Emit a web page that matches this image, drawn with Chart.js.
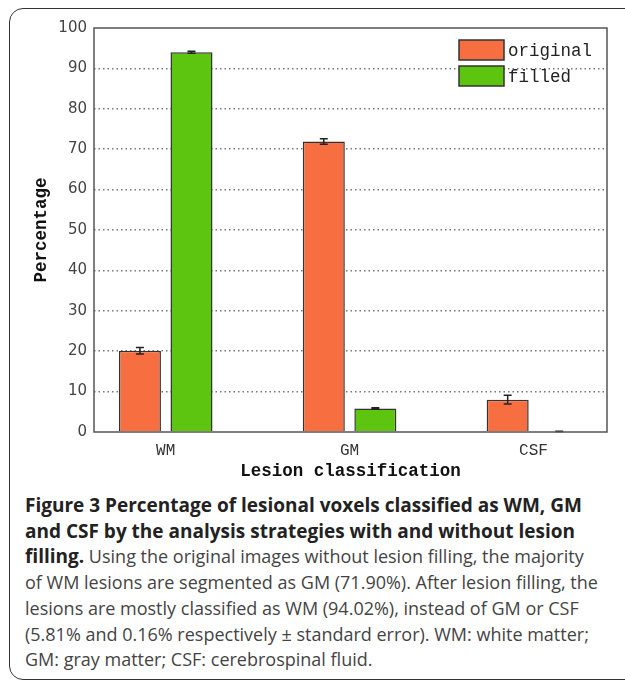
<!DOCTYPE html>
<html>
<head>
<meta charset="utf-8">
<script src="https://cdn.jsdelivr.net/npm/chart.js"></script>
<style>
  html, body { margin: 0; padding: 0; background: #fff; }
  body { width: 625px; height: 683px; position: relative; overflow: hidden; }
  #frame {
    position: absolute; left: 9px; top: 8px; width: 700px; height: 672px;
    border: 1.5px solid #333; border-radius: 14px; box-sizing: border-box;
  }
  #chart { position: absolute; left: 0; top: 0; }
  #caption {
    position: absolute; left: 25px; top: 493px;
    font-family: "Open Sans", sans-serif; font-size: 18px; line-height: 25.7px;
    color: #444; white-space: nowrap;
  }
  #caption b { color: #222; font-weight: 700; font-size: 19px; }
</style>
</head>
<body>
<div id="frame"></div>
<canvas id="chart" width="625" height="482"></canvas>
<div id="caption">
  <b>Figure 3 Percentage of lesional voxels classified as WM, GM</b><br>
  <b>and CSF by the analysis strategies with and without lesion</b><br>
  <b>filling.</b> Using the original images without lesion filling, the majority<br>
  of WM lesions are segmented as GM (71.90%). After lesion filling, the<br>
  lesions are mostly classified as WM (94.02%), instead of GM or CSF<br>
  (5.81% and 0.16% respectively ± standard error). WM: white matter;<br>
  GM: gray matter; CSF: cerebrospinal fluid.
</div>
<script>
const categories = ['WM', 'GM', 'CSF'];
const originalValues = [20.1, 71.9, 8.0];
const originalErrors = [0.8, 0.7, 1.1];
const filledValues = [94.02, 5.81, 0.16];
const filledErrors = [0.25, 0.2, 0.05];
const yTicks = [0, 10, 20, 30, 40, 50, 60, 70, 80, 90, 100];

const monoFont = '"Liberation Mono", "Courier New", monospace';

// error bars drawn on top of each bar
const errorBars = {
  id: 'errorBars',
  afterDatasetsDraw(chart) {
    const ctx = chart.ctx;
    const y = chart.scales.y;
    ctx.save();
    ctx.strokeStyle = '#222';
    ctx.lineWidth = 1.5;
    chart.data.datasets.forEach((ds, di) => {
      const meta = chart.getDatasetMeta(di);
      meta.data.forEach((bar, i) => {
        const v = ds.data[i].y;
        const e = ds.errors[i];
        const top = y.getPixelForValue(v + e);
        const bot = y.getPixelForValue(v - e);
        ctx.beginPath();
        ctx.moveTo(bar.x, top); ctx.lineTo(bar.x, bot);
        ctx.moveTo(bar.x - 4, top); ctx.lineTo(bar.x + 4, top);
        ctx.moveTo(bar.x - 4, bot); ctx.lineTo(bar.x + 4, bot);
        ctx.stroke();
      });
    });
    ctx.restore();
  }
};

// plot frame + legend in the top right corner
const frameLegend = {
  id: 'frameLegend',
  afterDraw(chart) {
    const ctx = chart.ctx;
    const a = chart.chartArea;
    ctx.save();
    ctx.strokeStyle = '#555';
    ctx.lineWidth = 1.5;
    ctx.strokeRect(a.left, a.top, a.right - a.left, a.bottom - a.top);

    const x = a.right - 148;
    chart.data.datasets.forEach((ds, i) => {
      const by = a.top + 12 + i * 26;
      ctx.fillStyle = ds.backgroundColor;
      ctx.fillRect(x, by, 45, 20);
      ctx.strokeStyle = '#333';
      ctx.strokeRect(x, by, 45, 20);
      ctx.fillStyle = '#222';
      ctx.font = '17.5px ' + monoFont;
      ctx.textBaseline = 'middle';
      ctx.fillText(ds.label, x + 49, by + 11);
    });
    ctx.restore();
  }
};

new Chart(document.getElementById('chart'), {
  type: 'bar',
  data: {
    datasets: [{
      label: 'original',
      data: categories.map((c, i) => ({ x: i, y: originalValues[i] })),
      errors: originalErrors,
      backgroundColor: '#f76f40',
      borderColor: '#333',
      borderWidth: 1.5,
    }, {
      label: 'filled',
      data: categories.map((c, i) => ({ x: i, y: filledValues[i] })),
      errors: filledErrors,
      backgroundColor: '#5dc40f',
      borderColor: '#333',
      borderWidth: 1.5,
    }],
  },
  options: {
    responsive: false,
    animation: false,
    categoryPercentage: 0.561,
    barPercentage: 0.815,
    layout: { padding: { top: 28, right: 18, left: 0, bottom: 0 } },
    plugins: {
      legend: { display: false },
      tooltip: { enabled: false },
    },
    scales: {
      x: {
        type: 'linear',
        offset: false,
        min: -0.39,
        max: 2.4,
        afterFit: (s) => { s.height = 50; },
        grid: { display: false, drawTicks: false, offset: false },
        border: { display: false },
        ticks: {
          stepSize: 1,
          includeBounds: false,
          padding: 9,
          color: '#333',
          font: { family: monoFont, size: 16 },
          callback: (v) => Number.isInteger(v) ? categories[v] : '',
        },
        title: {
          display: true,
          text: 'Lesion classification',
          color: '#111',
          padding: 0,
          font: { family: monoFont, size: 17.5, weight: 'bold' },
        },
      },
      y: {
        min: yTicks[0],
        max: yTicks[yTicks.length - 1],
        afterFit: (s) => { s.width = 94; },
        afterBuildTicks: (s) => { s.ticks = yTicks.map(v => ({ value: v })); },
        border: { display: false, dash: [1.5, 3] },
        grid: {
          drawTicks: false,
          lineWidth: 1.5,
          color: (c) => (c.tick.value === 0 || c.tick.value === 100) ? 'rgba(0,0,0,0)' : '#777',
        },
        ticks: {
          padding: 7,
          color: '#444',
          font: { family: '"DejaVu Sans", sans-serif', size: 15 },
        },
        title: {
          display: true,
          text: 'Percentage',
          color: '#111',
          padding: { top: 31.5, bottom: 0 },
          font: { family: monoFont, size: 17.5, weight: 'bold' },
        },
      },
    },
  },
  plugins: [errorBars, frameLegend],
});
</script>
</body>
</html>
